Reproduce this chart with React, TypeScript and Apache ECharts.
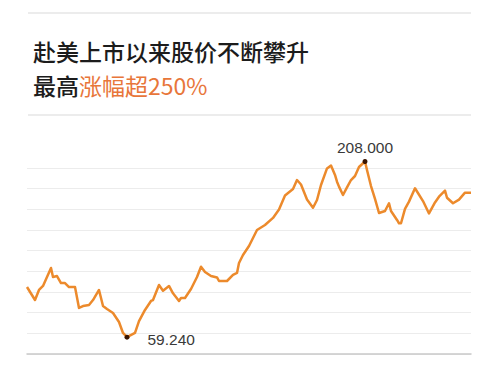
import React, { useEffect, useRef } from "react";
import * as echarts from "echarts";

const titleLine1 = "赴美上市以来股价不断攀升";
const titleLine2Dark = "最高";
const titleLine2Orange = "涨幅超250%";

// trading-period index since listing
const periods = [
  0, 4, 6, 8, 12, 13, 15, 17, 19, 21, 24, 26, 28, 31, 33, 36, 38, 40, 43, 46,
  48, 50, 54, 56, 59, 62, 63, 66, 68, 71, 73, 76, 77, 79, 82, 85, 87, 89, 92,
  95, 96, 100, 103, 105, 106, 108, 111, 115, 119, 123, 126, 129, 133, 135, 137,
  140, 143, 145, 147, 150, 152, 154, 155, 156, 158, 160, 162, 164, 166, 169,
  170, 172, 174, 176, 179, 181, 182, 185, 186, 187, 189, 191, 194, 198, 201,
  204, 206, 209, 210, 213, 216, 219, 222,
];

// share price
const prices = [
  101.7, 90.7, 99.2, 102.6, 117.8, 110.2, 111.0, 105.1, 105.1, 101.7, 101.7,
  84.0, 85.6, 86.5, 90.7, 99.2, 85.6, 83.1, 79.7, 72.1, 62.8, 59.24, 62.8,
  72.9, 82.3, 89.9, 90.7, 103.4, 98.6, 102.6, 96.4, 89.9, 92.4, 92.4, 100.0,
  110.2, 118.9, 114.4, 111.0, 109.8, 106.8, 106.8, 111.9, 113.6, 122.0, 128.8,
  136.4, 150.0, 154.2, 160.2, 167.3, 179.2, 184.7, 192.3, 188.5, 175.8, 168.8,
  175.4, 188.1, 202.1, 204.6, 196.6, 190.9, 186.7, 179.6, 186.0, 192.3, 195.7,
  203.3, 208.0, 200.8, 187.2, 176.4, 164.4, 166.1, 172.6, 166.1, 158.5, 155.7,
  155.7, 167.8, 174.0, 185.3, 174.5, 164.0, 173.3, 178.2, 183.3, 177.3, 172.6,
  175.7, 181.6, 181.6,
];

const gridLineCount = [0, 10];
const priceRange = [45, 220];

export default function App() {
  const ref = useRef<HTMLDivElement>(null);
  useEffect(() => {
    document.body.style.margin = "0";
    const chart = echarts.init(ref.current!, null, { renderer: "svg" });
    const seriesData = periods.map((p, i) => [p, prices[i]]);
    const gridColors = Array.from({ length: gridLineCount[1] + 1 }, (_, i) =>
      i === gridLineCount[1] ? "rgba(0,0,0,0)" : "#ececec"
    );
    const fmt = (p: any) => Number(Array.isArray(p.value) ? p.value[1] : p.value).toFixed(3);
    chart.setOption({
      animation: false,
      backgroundColor: "#ffffff",
      title: {
        left: 28,
        top: 29,
        text: `{a|${titleLine1}}\n{a|${titleLine2Dark}}{b|${titleLine2Orange}}`,
        textStyle: {
          rich: {
            a: {
              fontFamily: "Noto Sans CJK SC",
              fontSize: 23,
              fontWeight: 500,
              color: "#1c1c1c",
              lineHeight: 34,
            },
            b: {
              fontFamily: "Noto Sans CJK SC",
              fontSize: 23,
              fontWeight: 400,
              color: "#e8763a",
              lineHeight: 34,
            },
          },
        },
      },
      graphic: [
        {
          type: "line",
          shape: { x1: 28, y1: 13, x2: 471, y2: 13 },
          style: { stroke: "#d9d9d9", lineWidth: 1.2 },
        },
        {
          type: "line",
          shape: { x1: 28, y1: 115, x2: 471, y2: 115 },
          style: { stroke: "#d9d9d9", lineWidth: 1.2 },
        },
      ],
      grid: { left: 27, right: 23, top: 147.3, bottom: 15, containLabel: false },
      xAxis: {
        type: "value",
        min: periods[0],
        max: periods[periods.length - 1],
        axisLine: { show: true, onZero: false, lineStyle: { color: "#c9c9c9", width: 1.5 } },
        axisTick: { show: false },
        axisLabel: { show: false },
        splitLine: { show: false },
      },
      yAxis: [
        {
          type: "value",
          min: priceRange[0],
          max: priceRange[1],
          axisLine: { show: false },
          axisTick: { show: false },
          axisLabel: { show: false },
          splitLine: { show: false },
        },
        {
          type: "value",
          min: gridLineCount[0],
          max: gridLineCount[1],
          interval: 1,
          axisLine: { show: false },
          axisTick: { show: false },
          axisLabel: { show: false },
          splitLine: { show: true, lineStyle: { color: gridColors, width: 1 } },
        },
      ],
      series: [
        {
          type: "line",
          yAxisIndex: 0,
          data: seriesData,
          symbol: "none",
          lineStyle: { color: "#ec8a2c", width: 2.5, join: "round" },
          markPoint: {
            symbol: "circle",
            symbolSize: 5,
            itemStyle: { color: "#3a1400" },
            data: [
              {
                type: "max",
                valueDim: "y",
                label: {
                  show: true,
                  position: "top",
                  distance: 3,
                  formatter: fmt,
                  fontFamily: "Liberation Sans",
                  fontSize: 15.5,
                  color: "#3a3a3a",
                },
              },
              {
                type: "min",
                valueDim: "y",
                label: {
                  show: true,
                  position: "right",
                  distance: 18,
                  offset: [0, 2],
                  formatter: fmt,
                  fontFamily: "Liberation Sans",
                  fontSize: 15.5,
                  color: "#3a3a3a",
                },
              },
            ],
          },
        },
      ],
    });
    return () => chart.dispose();
  }, []);
  return (
    <div
      ref={ref}
      style={{ position: "absolute", left: 0, top: 0, width: 494, height: 369 }}
    />
  );
}
